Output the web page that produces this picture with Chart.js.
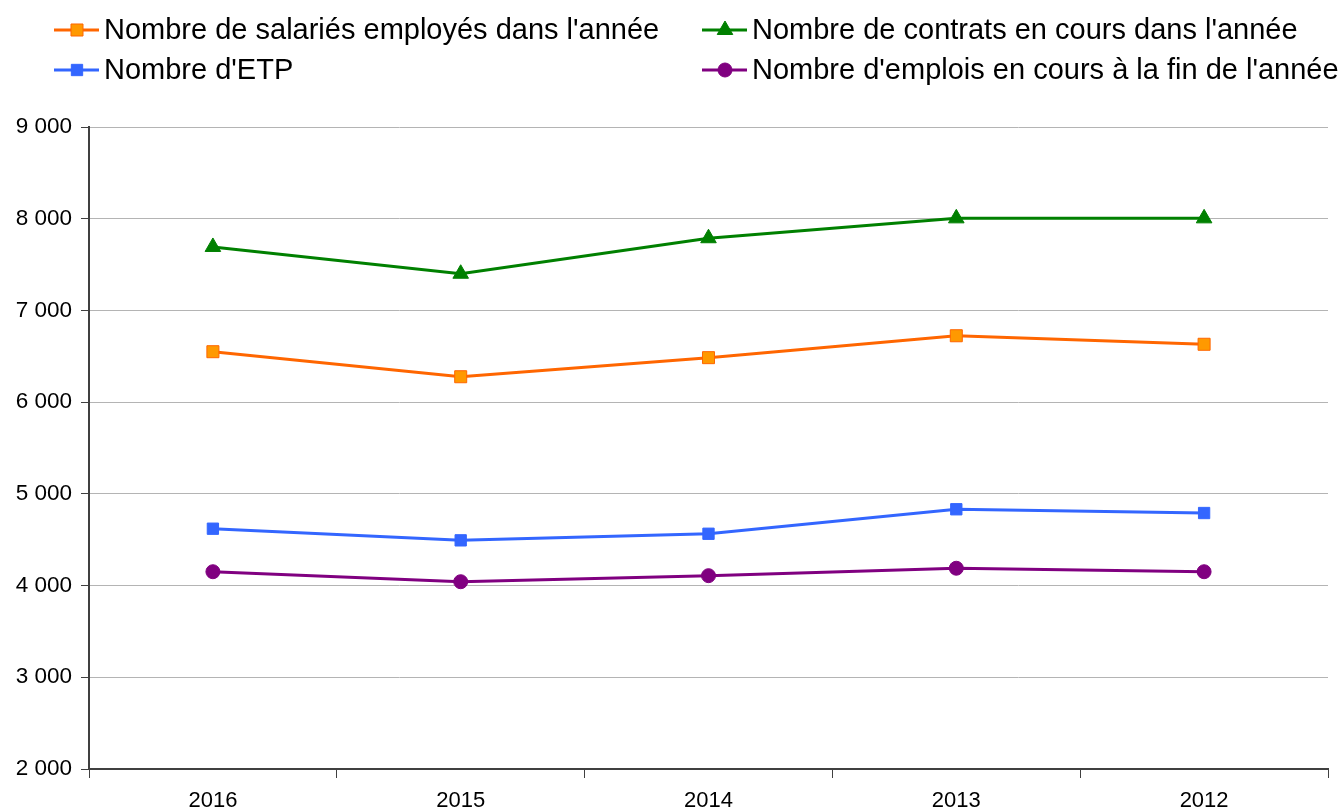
<!DOCTYPE html>
<html lang="fr">
<head>
<meta charset="utf-8">
<title>Évolution des emplois</title>
<script src="https://cdn.jsdelivr.net/npm/chart.js@4/dist/chart.umd.min.js"></script>
<style>
  body { margin: 0; background: #fff; }
  #zone { width: 1340px; height: 812px; }
</style>
</head>
<body>
<div id="zone"><canvas id="grafico" width="1340" height="812"></canvas></div>
<script>
const annees = ["2016", "2015", "2014", "2013", "2012"];
const salaries = [6550, 6277, 6485, 6724, 6631];
const contrats = [7692, 7400, 7787, 8004, 8004];
const etp = [4620, 4493, 4565, 4832, 4791];
const emplois = [4151, 4042, 4108, 4189, 4151];
const ticksY = [2000, 3000, 4000, 5000, 6000, 7000, 8000, 9000];

const police = '"Liberation Sans", Arial, sans-serif';

const formatMilliers = (v) => String(v).replace(/\B(?=(\d{3})+(?!\d))/g, " ");

const series = [
  { label: "Nombre de salariés employés dans l'année", data: salaries, borderColor: "#ff6600", backgroundColor: "#ff9900", pointStyle: "rect", pointRadius: 8.5, pointBorderWidth: 1 },
  { label: "Nombre de contrats en cours dans l'année", data: contrats, borderColor: "#008000", backgroundColor: "#008000", pointStyle: "triangle", pointRadius: 9, pointBorderWidth: 1 },
  { label: "Nombre d'ETP", data: etp, borderColor: "#3366ff", backgroundColor: "#3366ff", pointStyle: "rect", pointRadius: 8, pointBorderWidth: 1 },
  { label: "Nombre d'emplois en cours à la fin de l'année", data: emplois, borderColor: "#800080", backgroundColor: "#800080", pointStyle: "circle", pointRadius: 7, pointBorderWidth: 1 }
];

// legende en 2 colonnes en haut, comme l'original
const legendeHaut = {
  id: "legendeHaut",
  afterDraw(chart) {
    const ctx = chart.ctx;
    chart.data.datasets.forEach((ds, i) => {
      const x = (i % 2) ? 702 : 54;
      const y = (i < 2) ? 30 : 70;
      ctx.save();
      ctx.strokeStyle = ds.borderColor;
      ctx.lineWidth = 3;
      ctx.beginPath();
      ctx.moveTo(x, y);
      ctx.lineTo(x + 45, y);
      ctx.stroke();
      ctx.fillStyle = ds.backgroundColor;
      ctx.lineWidth = ds.pointBorderWidth;
      Chart.helpers.drawPoint(ctx, { pointStyle: ds.pointStyle, radius: ds.pointRadius, rotation: 0, borderWidth: ds.pointBorderWidth }, x + 23, y);
      ctx.fillStyle = "#000";
      ctx.font = "29px " + police;
      ctx.textBaseline = "middle";
      ctx.fillText(ds.label, x + 50, y + 1);
      ctx.restore();
    });
  }
};

const canvas = document.querySelector("#grafico");
const config = {
  type: "line",
  data: {
    labels: annees,
    datasets: series.map((s) => ({
      label: s.label,
      data: s.data,
      borderColor: s.borderColor,
      backgroundColor: s.backgroundColor,
      borderWidth: 3,
      pointStyle: s.pointStyle,
      pointRadius: s.pointRadius,
      pointBorderWidth: s.pointBorderWidth,
      pointBorderColor: s.borderColor,
      pointBackgroundColor: s.backgroundColor,
      tension: 0
    }))
  },
  options: {
    responsive: false,
    animation: false,
    layout: { padding: { top: 127, right: 12, left: 0, bottom: 0 } },
    plugins: { legend: { display: false }, tooltip: { enabled: false } },
    scales: {
      x: {
        offset: true,
        grid: { offset: true, drawOnChartArea: false, drawTicks: true, tickLength: 9, tickColor: "#404040", tickWidth: 1 },
        border: { color: "#404040", width: 2 },
        ticks: { color: "#000", padding: 10, font: { family: police, size: 22 } },
        afterFit: (scale) => { scale.height = 43; }
      },
      y: {
        min: 2000,
        max: 9000,
        afterBuildTicks: (scale) => { scale.ticks = ticksY.map((v) => ({ value: v })); },
        grid: { color: "#b4b4b4", lineWidth: 1, tickLength: 8, tickColor: "#404040" },
        border: { color: "#404040", width: 2 },
        ticks: { color: "#000", padding: 9, font: { family: police, size: 22.5 }, callback: (v) => formatMilliers(v) },
        afterFit: (scale) => { scale.width = 89; }
      }
    }
  },
  plugins: [legendeHaut]
};
const miGrafico = new Chart(canvas, config);
</script>
</body>
</html>
